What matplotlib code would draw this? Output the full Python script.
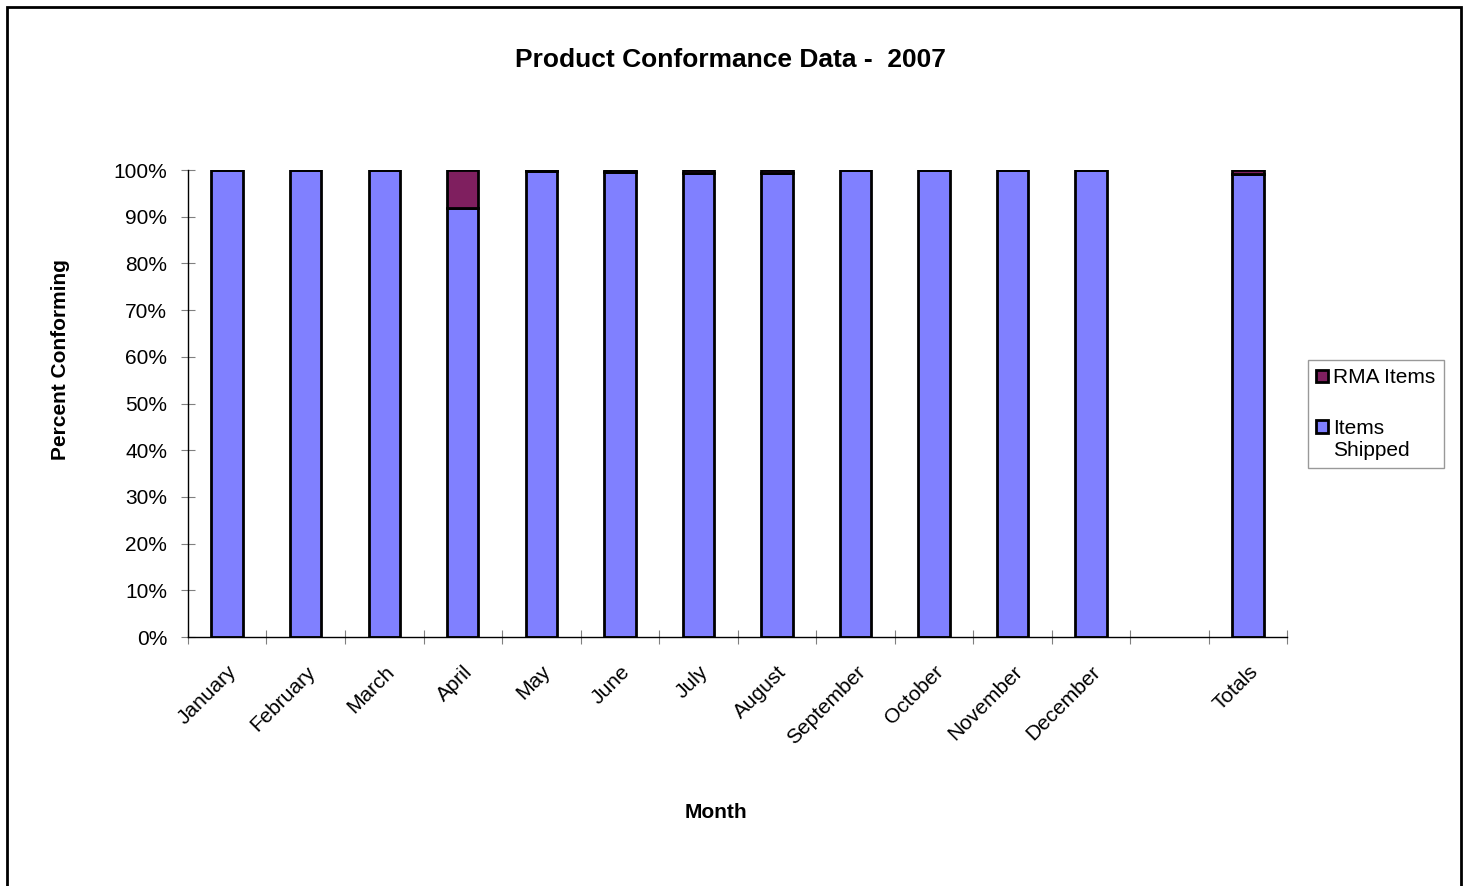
import numpy as np
import matplotlib.pyplot as plt
from matplotlib.patches import Rectangle
from matplotlib.legend_handler import HandlerPatch
from matplotlib.ticker import FuncFormatter

plt.rcParams['font.family'] = ['Liberation Sans', 'DejaVu Sans']

# Category slots: 12 months, an empty gap, then the totals bar
categories = ['January', 'February', 'March', 'April', 'May', 'June', 'July',
              'August', 'September', 'October', 'November', 'December', '', 'Totals']
items_shipped = [100.0, 100.0, 100.0, 91.9, 99.9, 99.7, 99.4, 99.4, 100.0, 100.0, 100.0, 100.0, np.nan, 99.2]
rma_items = [0.0, 0.0, 0.0, 8.1, 0.1, 0.3, 0.6, 0.6, 0.0, 0.0, 0.0, 0.0, np.nan, 0.8]


class TopPatchHandler(HandlerPatch):
    # put the legend swatch level with the first text line
    def __init__(self, shift=0, **kw):
        super().__init__(**kw)
        self.shift = shift

    def create_artists(self, legend, orig_handle, xdescent, ydescent, width, height, fontsize, trans):
        p = Rectangle((-xdescent, -ydescent + self.shift), width, height,
                      facecolor=orig_handle.get_facecolor(), edgecolor='black', linewidth=2)
        p.set_transform(trans)
        return [p]


fig = plt.figure(figsize=(14.68, 8.86), dpi=100)
ax = fig.add_axes([0.128, 0.281, 0.749, 0.527])

x = np.arange(len(categories))
shipped = np.array(items_shipped)
rma = np.array(rma_items)

b1 = ax.bar(x, shipped, width=0.4, color='#8080FF', edgecolor='black', linewidth=2, label='Items\nShipped')
b2 = ax.bar(x, rma, width=0.4, bottom=shipped, color='#7F1F5F', edgecolor='black', linewidth=2, label='RMA Items')

ax.set_xlim(-0.5, len(categories) - 0.5)
ax.set_ylim(0, 100)
ax.set_yticks(np.arange(0, 101, 10))
ax.yaxis.set_major_formatter(FuncFormatter(lambda v, p: f'{int(v)}%'))

# boundary ticks on x, labels at centres
ax.set_xticks(np.arange(-0.5, len(categories), 1.0))
ax.set_xticklabels([])
ax.set_xticks(x, minor=True)
ax.set_xticklabels(categories, minor=True, rotation=45, ha='right', rotation_mode='anchor', fontsize=15)
ax.tick_params(axis='x', which='minor', length=0, pad=18)
ax.tick_params(axis='x', which='major', direction='inout', length=10, color='#808080')
ax.tick_params(axis='y', direction='inout', length=10, color='#808080', labelsize=15, pad=10)

for s in ['top', 'right']:
    ax.spines[s].set_visible(False)
ax.spines['left'].set_linewidth(1)
ax.spines['bottom'].set_linewidth(1)

fig.text(716 / 1468, 1 - 812 / 886, 'Month', ha='center', va='center', fontsize=15, fontweight='bold')
fig.text(60 / 1468, 1 - 360 / 886, 'Percent Conforming', ha='center', va='center', rotation=90,
         fontsize=15, fontweight='bold')
fig.text(730 / 1468, 1 - 60 / 886, 'Product Conformance Data -  2007', ha='center', va='center',
         fontsize=19, fontweight='bold')

leg = fig.legend([b2.patches[0], b1.patches[0]], ['RMA Items', 'Items\nShipped'],
                 loc='upper left', bbox_to_anchor=(1308 / 1468, 1 - 360 / 886),
                 fontsize=15, frameon=True, fancybox=False, edgecolor='#808080',
                 handlelength=0.55, handleheight=0.55, handletextpad=0.25, labelspacing=1.5,
                 borderpad=0.4, borderaxespad=0,
                 handler_map={b1.patches[0]: TopPatchHandler(shift=9),
                              b2.patches[0]: TopPatchHandler(shift=0)})
leg.get_frame().set_linewidth(1)

fig.patches.append(Rectangle((0.005, -0.01), 0.99, 1.002, transform=fig.transFigure,
                             fill=False, edgecolor='black', linewidth=2))

fig.savefig('out.png', dpi=100)
